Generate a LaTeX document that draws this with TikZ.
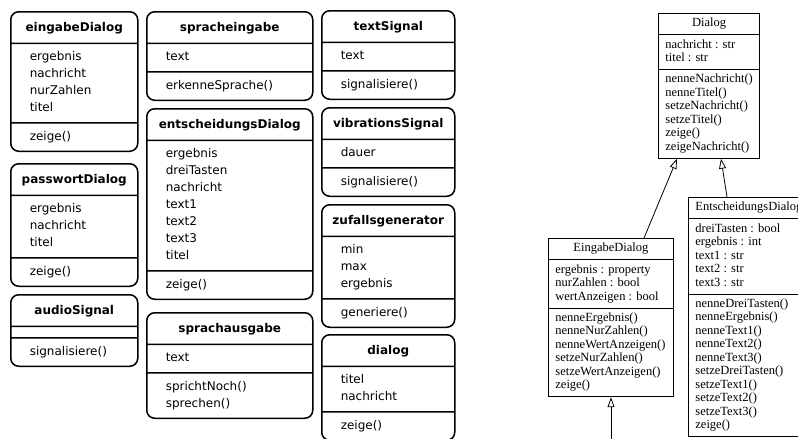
\documentclass[tikz,border=0pt]{standalone}
\usepackage{fontspec}
\setmainfont{DejaVu Sans}
\newfontfamily\umlfont{Liberation Serif}
\usetikzlibrary{shapes.multipart,positioning,arrows.meta}
\newcommand{\kopf}[1]{\rule[-6pt]{0pt}{20pt}\textbf{#1}}
\newcommand{\leer}{\raisebox{0pt}[-4pt][0pt]{\hspace{1pt}}}
\newcommand{\zeilen}[1]{\begin{tabular}{@{\hspace{15pt}}l@{}}#1\end{tabular}}
\newcommand{\liste}[1]{\begin{tabular}{@{}l@{}}#1\end{tabular}}
\tikzset{
  karte/.style={rectangle split, rectangle split parts=3, draw, line width=1.5pt,
    rounded corners=8pt, inner xsep=4pt, inner ysep=5pt,
    rectangle split part align={center,left,left},
    font=\fontsize{12}{17}\selectfont},
  klasse/.style={rectangle split, rectangle split parts=3, draw, line width=0.8pt,
    inner xsep=7pt, inner ysep=3.5pt, rectangle split part align={center,left,left},
    font=\umlfont\fontsize{12.5}{13.5}\selectfont, anchor=north west},
  erbt/.style={-{Triangle[open,length=10pt,width=7pt]}, line width=0.8pt}
}
\begin{document}
\begin{tikzpicture}[x=1pt,y=-1pt]
      \useasboundingbox (0,0) rectangle (798,439);

      \node[karte, minimum width=127pt, anchor=north west] (eingabe) at (10,11)
        {\kopf{eingabeDialog}\nodepart{two}\zeilen{ergebnis\\nachricht\\nurZahlen\\titel}\nodepart{three}\zeilen{zeige()}};
      \node[karte, minimum width=127pt, below=11pt of eingabe] (passwort)
        {\kopf{passwortDialog}\nodepart{two}\zeilen{ergebnis\\nachricht\\titel}\nodepart{three}\zeilen{zeige()}};
      \node[karte, minimum width=127pt, below=7pt of passwort] (audio)
        {\kopf{audioSignal}\nodepart{two}\leer\nodepart{three}\zeilen{signalisiere()}};

      \node[karte, minimum width=166pt, anchor=north west] (spracheingabe) at (146,11)
        {\kopf{spracheingabe}\nodepart{two}\zeilen{text}\nodepart{three}\zeilen{erkenneSprache()}};
      \node[karte, minimum width=166pt, below=7pt of spracheingabe] (entscheidung)
        {\kopf{entscheidungsDialog}\nodepart{two}\zeilen{ergebnis\\dreiTasten\\nachricht\\text1\\text2\\text3\\titel}\nodepart{three}\zeilen{zeige()}};
      \node[karte, minimum width=166pt, below=12pt of entscheidung] (sprachausgabe)
        {\kopf{sprachausgabe}\nodepart{two}\zeilen{text}\nodepart{three}\zeilen{sprichtNoch()\\sprechen()}};

      \node[karte, minimum width=133pt, anchor=north west] (textsignal) at (321,10)
        {\kopf{textSignal}\nodepart{two}\zeilen{text}\nodepart{three}\zeilen{signalisiere()}};
      \node[karte, minimum width=133pt, below=7pt of textsignal] (vibration)
        {\kopf{vibrationsSignal}\nodepart{two}\zeilen{dauer}\nodepart{three}\zeilen{signalisiere()}};
      \node[karte, minimum width=133pt, below=7pt of vibration] (zufall)
        {\kopf{zufallsgenerator}\nodepart{two}\zeilen{min\\max\\ergebnis}\nodepart{three}\zeilen{generiere()}};
      \node[karte, minimum width=133pt, below=6pt of zufall] (dialog)
        {\kopf{dialog}\nodepart{two}\zeilen{titel\\nachricht}\nodepart{three}\zeilen{zeige()}};

      \node[klasse, minimum width=100pt] (Dialog) at (658,13)
        {\liste{Dialog}\nodepart{two}\liste{nachricht : str\\titel : str}
         \nodepart{three}\liste{nenneNachricht()\\nenneTitel()\\setzeNachricht()\\setzeTitel()\\zeige()\\zeigeNachricht()}};
      \node[klasse, minimum width=125pt] (EingabeDialog) at (548,238)
        {\liste{EingabeDialog}\nodepart{two}\liste{ergebnis : property\\nurZahlen : bool\\wertAnzeigen : bool}
         \nodepart{three}\liste{nenneErgebnis()\\nenneNurZahlen()\\nenneWertAnzeigen()\\setzeNurZahlen()\\setzeWertAnzeigen()\\zeige()}};
      \node[klasse, minimum width=120pt] (EntscheidungsDialog) at (688,197)
        {\liste{EntscheidungsDialog}\nodepart{two}\liste{dreiTasten : bool\\ergebnis : int\\text1 : str\\text2 : str\\text3 : str}
         \nodepart{three}\liste{nenneDreiTasten()\\nenneErgebnis()\\nenneText1()\\nenneText2()\\nenneText3()\\setzeDreiTasten()\\setzeText1()\\setzeText2()\\setzeText3()\\zeige()}};
      \coordinate (unten) at (611,460);

      \draw[erbt] ([xshift=96pt]EingabeDialog.north west) -- ([xshift=19pt]Dialog.south west);
      \draw[erbt] ([xshift=39pt]EntscheidungsDialog.north west) -- ([xshift=63pt]Dialog.south west);
      \draw[erbt] (unten) -- ([xshift=63pt]EingabeDialog.south west);
    \end{tikzpicture}
\end{document}
